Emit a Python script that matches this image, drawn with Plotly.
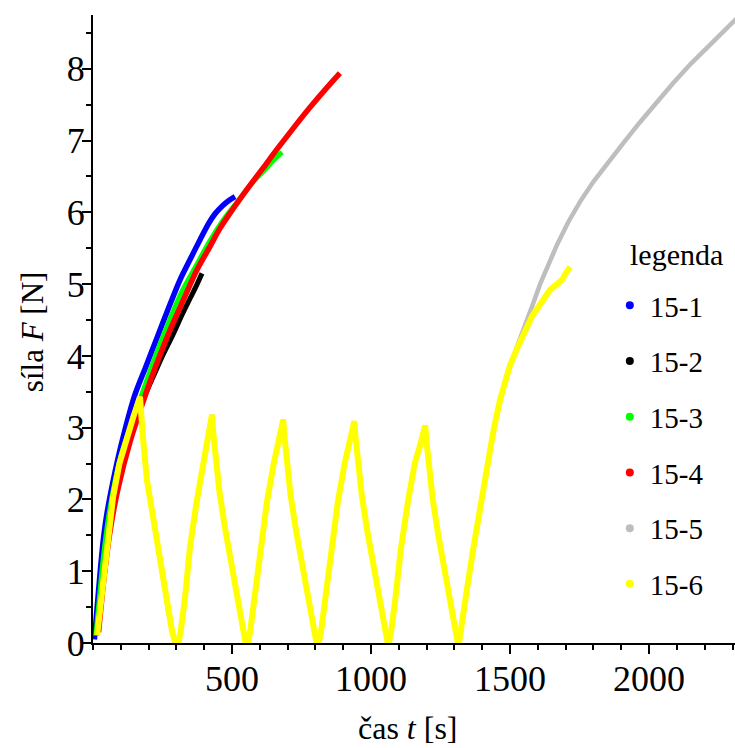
import plotly.graph_objects as go

# ---------------- data ----------------
series_names = ["15-1", "15-2", "15-3", "15-4", "15-5", "15-6"]
series_colors = ["#0000FF", "#000000", "#00FF00", "#FF0000", "#BEBEBE", "#FFFF00"]

t_15_1 = [5, 15, 25, 36, 50, 72, 104, 150, 190, 230, 270, 313, 350, 385, 415, 439, 465, 490, 511]
F_15_1 = [0.05, 0.5, 0.95, 1.4, 1.8, 2.25, 2.8, 3.45, 3.85, 4.25, 4.65, 5.06, 5.35, 5.62, 5.84, 5.98, 6.09, 6.17, 6.22]

t_15_2 = [10, 20, 36, 60, 100, 169, 220, 250, 288, 320, 349, 372, 392]
F_15_2 = [0.1, 0.45, 1.05, 1.7, 2.45, 3.28, 3.74, 4.0, 4.3, 4.57, 4.8, 4.98, 5.15]

t_15_3 = [10, 20, 36, 60, 100, 169, 220, 270, 320, 370, 420, 470, 520, 570, 620, 650, 680]
F_15_3 = [0.1, 0.5, 1.15, 1.85, 2.6, 3.39, 3.95, 4.45, 4.9, 5.25, 5.6, 5.9, 6.15, 6.4, 6.6, 6.73, 6.84]

t_15_4 = [20, 30, 40, 61, 90, 133, 180, 230, 277, 325, 374, 420, 457, 493, 550, 612, 662, 720, 780, 835, 888]
F_15_4 = [0.15, 0.55, 0.92, 1.55, 2.15, 2.8, 3.36, 3.9, 4.36, 4.78, 5.2, 5.52, 5.78, 5.99, 6.3, 6.62, 6.88, 7.17, 7.46, 7.71, 7.94]

# loading / unloading cycles shared by 15-5 and 15-6
t_cycles = [15, 25, 36, 50, 72, 95, 122, 145, 169,
            172, 180, 194, 215, 235, 252, 270, 285, 295, 302, 308,
            315, 330, 349, 372, 396, 412, 428,
            432, 440, 455, 475, 500, 520, 538, 548, 553, 558,
            565, 580, 600, 625, 650, 668, 684,
            688, 696, 711, 731, 756, 776, 794, 803, 808, 813,
            820, 835, 855, 880, 905, 923, 940,
            944, 952, 967, 987, 1012, 1031, 1048, 1056, 1060, 1065,
            1072, 1087, 1107, 1132, 1157, 1176, 1195,
            1199, 1207, 1222, 1242, 1267, 1285, 1301, 1308, 1312, 1317,
            1325, 1345, 1367, 1392, 1417, 1440, 1464, 1482, 1500]
F_cycles = [0.11, 0.45, 0.88, 1.4, 2.03, 2.5, 2.87, 3.15, 3.43,
            3.2, 2.85, 2.27, 1.75, 1.3, 0.88, 0.45, 0.15, 0.02, 0.0, 0.02,
            0.15, 0.6, 1.34, 1.95, 2.5, 2.85, 3.18,
            2.95, 2.6, 2.1, 1.6, 1.05, 0.6, 0.2, 0.02, 0.0, 0.02,
            0.15, 0.6, 1.3, 1.95, 2.5, 2.85, 3.11,
            2.9, 2.55, 2.05, 1.55, 1.0, 0.58, 0.2, 0.02, 0.0, 0.02,
            0.15, 0.6, 1.3, 1.95, 2.5, 2.8, 3.09,
            2.88, 2.55, 2.05, 1.55, 1.0, 0.58, 0.2, 0.02, 0.0, 0.02,
            0.15, 0.6, 1.3, 1.95, 2.5, 2.75, 3.03,
            2.82, 2.5, 2.0, 1.5, 0.97, 0.55, 0.2, 0.02, 0.0, 0.02,
            0.2, 0.75, 1.3, 1.9, 2.45, 2.95, 3.39, 3.65, 3.87]

t_15_5_tail = [1525, 1554, 1580, 1608, 1640, 1669, 1710, 1752, 1800, 1849, 1910, 1968, 2030, 2086, 2150, 2208, 2260, 2309, 2340]
F_15_5_tail = [4.12, 4.42, 4.7, 5.0, 5.3, 5.55, 5.87, 6.15, 6.43, 6.68, 6.98, 7.26, 7.55, 7.8, 8.07, 8.3, 8.5, 8.68, 8.79]

t_15_6_tail = [1525, 1547, 1580, 1619, 1644, 1669, 1687, 1700, 1716]
F_15_6_tail = [4.1, 4.3, 4.56, 4.78, 4.92, 5.0, 5.06, 5.15, 5.24]

x_tick_values = [500, 1000, 1500, 2000]
y_tick_values = [0, 1, 2, 3, 4, 5, 6, 7, 8]

# ---------------- figure ----------------
SERIF = "Liberation Serif"

t_15_5 = t_cycles + t_15_5_tail
F_15_5 = F_cycles + F_15_5_tail
t_15_6 = t_cycles + t_15_6_tail
F_15_6 = F_cycles + F_15_6_tail

series_t = [t_15_1, t_15_2, t_15_3, t_15_4, t_15_5, t_15_6]
series_F = [F_15_1, F_15_2, F_15_3, F_15_4, F_15_5, F_15_6]
widths = [5.5, 5, 5, 5.5, 4.5, 6]
shapes_ = ["spline", "spline", "spline", "spline", "linear", "linear"]

fig = go.Figure()
for name, color, t, F, w, sh in zip(series_names, series_colors, series_t, series_F, widths, shapes_):
    line = dict(color=color, width=w, shape=sh)
    if sh == "spline":
        line["smoothing"] = 0.8
    fig.add_trace(go.Scatter(x=t, y=F, mode="lines", line=line, showlegend=False, hoverinfo="skip"))

for name, color in zip(series_names, series_colors):
    fig.add_trace(go.Scatter(x=[None], y=[None], mode="markers", name=name, legendgroup=name,
                             marker=dict(color=color, size=8), showlegend=True))

axis_common = dict(showline=True, linecolor="black", linewidth=2, ticks="outside", ticklen=9, tickwidth=2,
                   tickcolor="black", showgrid=False, zeroline=False,
                   tickfont=dict(family=SERIF, size=36, color="black"))

fig.update_xaxes(range=[0, 2309], tickvals=x_tick_values, ticklabelstandoff=-6, **axis_common,
                 minor=dict(ticks="outside", dtick=100, tick0=0, ticklen=5, tickwidth=1.5, tickcolor="black"))
fig.update_yaxes(range=[0, 8.75], tickvals=y_tick_values, ticklabelstandoff=-10, **axis_common,
                 minor=dict(ticks="outside", dtick=0.5, tick0=0, ticklen=5, tickwidth=1.5, tickcolor="black"))

fig.update_layout(
    width=735, height=748,
    margin=dict(l=93, r=0, t=15, b=105),
    paper_bgcolor="white", plot_bgcolor="white",
    font=dict(family=SERIF, color="black"),
    showlegend=True,
    legend=dict(x=0.805, xanchor="left", y=0.578, yanchor="top",
                font=dict(family=SERIF, size=29, color="black"),
                tracegroupgap=15, bgcolor="rgba(0,0,0,0)", borderwidth=0),
    annotations=[
        dict(text="legenda", xref="paper", yref="paper", x=0.833, y=0.618, xanchor="left", yanchor="middle",
             showarrow=False, font=dict(family=SERIF, size=30, color="black")),
        dict(text="čas <i>t</i> [s]", xref="paper", yref="paper", x=0.49, y=-0.1665, xanchor="center",
             yanchor="bottom", showarrow=False, font=dict(family=SERIF, size=32, color="black")),
        dict(text="síla <i>F</i> [N]", xref="paper", yref="paper", x=-0.095, y=0.495, xanchor="center",
             yanchor="middle", textangle=-90, showarrow=False, font=dict(family=SERIF, size=31, color="black")),
    ],
)

fig.write_html("out.html", config={"displayModeBar": False},
               post_script="document.body.style.margin='0';document.body.style.overflow='hidden';")
